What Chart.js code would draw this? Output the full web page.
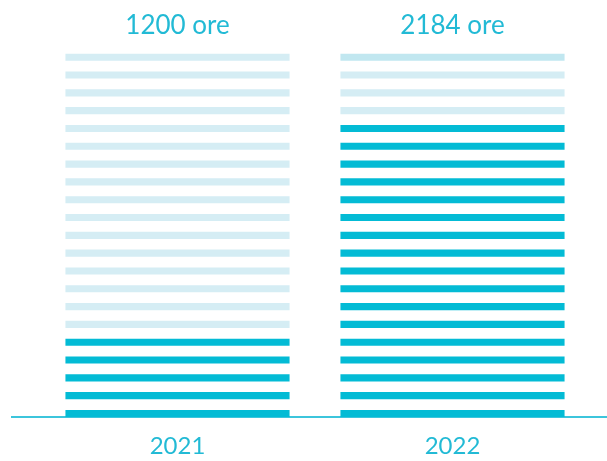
<!DOCTYPE html>
<html>
<head>
<meta charset="utf-8">
<script src="https://cdn.jsdelivr.net/npm/chart.js@4/dist/chart.umd.min.js"></script>
<style>
  html, body { margin: 0; padding: 0; background: #ffffff; }
  #wrap { width: 607px; height: 461px; position: relative; }
</style>
</head>
<body>
<div id="wrap"><canvas id="c" width="607" height="461"></canvas></div>
<script>
// ---- data ----
const categories = ['2021', '2022'];
const hours = [1200, 2184];
const unitLabel = 'ore';
const stripeCount = 21;          // stripes per column
const filledStripes = [5, 17];   // dark stripes per column (from the bottom)
const shadedTopStripe = [false, true]; // 2022's top stripe is a slightly darker tint

// ---- styles ----
const DARK = '#03bbd5';
const LIGHT = '#d5edf4';
const MID = '#c1e7f0';
const TEXT = '#22bad5';
const STRIPE_H = 0.40;

const topLabels = hours.map(h => h + ' ' + unitLabel);

const datasets = [];
for (let i = 0; i < stripeCount; i++) {
  datasets.push({
    label: 'stripe ' + (i + 1),
    data: categories.map(() => [i, i + STRIPE_H]),
    backgroundColor: categories.map((c, k) => {
      if (i < filledStripes[k]) return DARK;
      if (i === stripeCount - 1 && shadedTopStripe[k]) return MID;
      return LIGHT;
    }),
    borderWidth: 0,
    grouped: false,
    barPercentage: 0.815,
    categoryPercentage: 1.0
  });
}

const baseline = {
  id: 'baseline',
  beforeDatasetsDraw(chart) {
    const y = chart.scales.y.getPixelForValue(0);
    const ctx = chart.ctx;
    ctx.save();
    ctx.strokeStyle = '#3cc5dc';
    ctx.lineWidth = 2;
    ctx.beginPath();
    ctx.moveTo(11, y);
    ctx.lineTo(chart.width, y);
    ctx.stroke();
    ctx.restore();
  }
};

new Chart(document.getElementById('c'), {
  type: 'bar',
  data: { labels: categories, datasets },
  options: {
    responsive: false,
    animation: false,
    layout: { padding: { left: 40, right: 17, top: 0, bottom: 0 } },
    plugins: { legend: { display: false }, tooltip: { enabled: false } },
    scales: {
      x: {
        type: 'category',
        position: 'bottom',
        grid: { display: false, drawTicks: false },
        border: { display: false },
        ticks: { color: TEXT, font: { family: 'Lato', size: 24, weight: 400 }, padding: 15 },
        afterFit: s => { s.height = 44; }
      },
      x2: {
        type: 'category',
        position: 'top',
        labels: topLabels,
        grid: { display: false, drawTicks: false },
        border: { display: false },
        ticks: { color: TEXT, font: { family: 'Lato', size: 26, weight: 400 }, padding: 2 },
        afterFit: s => { s.height = 43; }
      },
      y: {
        display: false,
        min: 0,
        max: stripeCount,
        grid: { display: false }
      }
    }
  },
  plugins: [baseline]
});
</script>
</body>
</html>
